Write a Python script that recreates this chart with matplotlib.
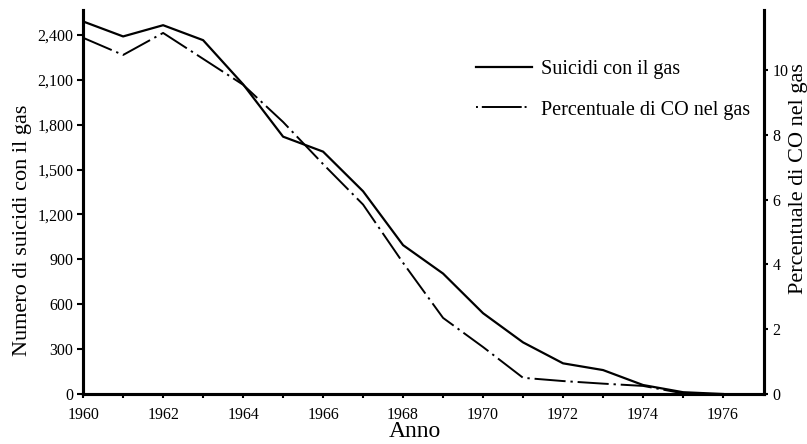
import matplotlib
matplotlib.use('Agg')
import matplotlib.pyplot as plt
from matplotlib.lines import Line2D
from matplotlib.ticker import FuncFormatter

plt.rcParams['font.family'] = ['Liberation Serif', 'DejaVu Serif']

# data
anni = [1960, 1961, 1962, 1963, 1964, 1965, 1966, 1967, 1968,
        1969, 1970, 1971, 1972, 1973, 1974, 1975, 1976]
suicidi = [2490, 2390, 2465, 2365, 2070, 1720, 1620, 1355, 995,
           805, 540, 345, 205, 160, 60, 12, 0]
anni_co = [1960, 1961, 1962, 1963, 1964, 1965, 1966, 1967, 1968,
           1969, 1970, 1971, 1972, 1973, 1974, 1975]
perc_co = [11.0, 10.47, 11.15, 10.35, 9.55, 8.4, 7.1, 5.85, 4.05,
           2.35, 1.45, 0.5, 0.4, 0.32, 0.25, 0.02]

fig = plt.figure(figsize=(8.07, 4.44), dpi=100)
ax = fig.add_axes([0.103, 0.1126, 0.844, 0.865])
ax2 = ax.twinx()

ax.plot(anni, suicidi, color='black', lw=1.6)
dash_co = (0, (16, 2.5, 1.2, 2.5))
ax2.plot(anni_co, perc_co, color='black', lw=1.4, linestyle=dash_co)

ax.set_xlim(1960, 1977.03)
ax.set_ylim(0, 2567)
ax2.set_ylim(0, 11.86)

ax.set_xticks(range(1960, 1977, 2))
ax.set_xticks(range(1960, 1977), minor=True)
ax.set_yticks(range(0, 2401, 300))
ax.yaxis.set_major_formatter(FuncFormatter(lambda v, p: f'{int(v):,}'))
ax2.set_yticks([0, 2, 4, 6, 8, 10])

for a in (ax, ax2):
    a.spines['top'].set_visible(False)
    for s in ('left', 'right', 'bottom'):
        a.spines[s].set_linewidth(2.2)

ax.tick_params(axis='y', direction='out', length=4, width=1.5, labelsize=11.5, pad=3)
ax.tick_params(axis='x', which='both', direction='out', length=3, width=1.5, labelsize=11.5, pad=6)
ax2.tick_params(axis='y', direction='out', length=3, width=1.5, labelsize=11.5, pad=3)

ax.set_xlabel('Anno', fontsize=17)
ax.xaxis.set_label_coords(0.4875, -0.07)
ax.xaxis.label.set_va('top')

ax.set_ylabel('Numero di suicidi con il gas', fontsize=16)
ax.yaxis.set_label_coords(-0.075, 0.427)
ax.yaxis.label.set_va('bottom')

ax2.set_ylabel('Percentuale di CO nel gas', fontsize=16, rotation=90)
ax2.yaxis.set_label_coords(1.036, 0.56)
ax2.yaxis.label.set_va('top')

handles = [Line2D([], [], color='black', lw=1.6),
           Line2D([], [], color='black', lw=1.4,
                  linestyle=(0, (1.0, 2.0, 20.5, 1.5, 1.0, 10)))]
ax.legend(handles, ['Suicidi con il gas', 'Percentuale di CO nel gas'],
          loc='center left', bbox_to_anchor=(0.565, 0.792), frameon=False,
          borderaxespad=0, fontsize=14.5, handlelength=2.8,
          handletextpad=0.45, labelspacing=1.05)

fig.savefig('out.png', dpi=100)
